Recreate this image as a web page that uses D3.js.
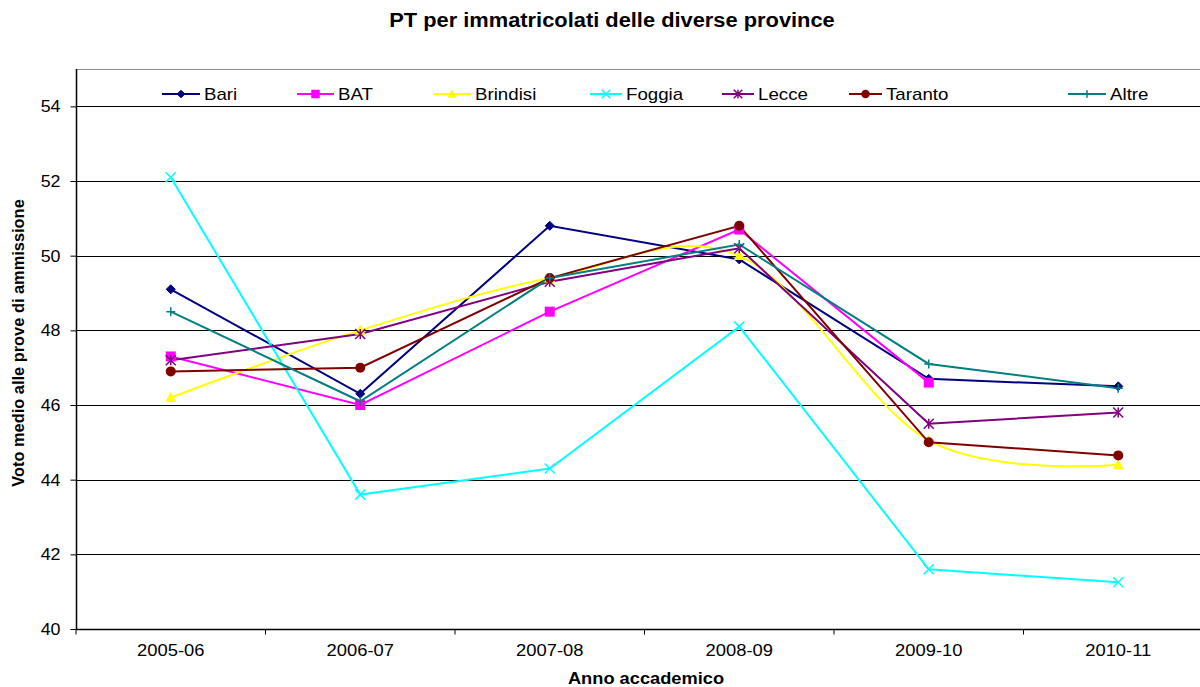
<!DOCTYPE html>
<html><head><meta charset="utf-8">
<script src="https://cdn.jsdelivr.net/npm/d3@7"></script>
<style>body{margin:0;background:#fff;}svg{display:block;font-family:"Liberation Sans",Arial,sans-serif;}</style>
</head><body>
<svg id="c" width="1200" height="687"></svg>
<script>
const categories = ["2005-06","2006-07","2007-08","2008-09","2009-10","2010-11"];
const yTicks = [40,42,44,46,48,50,52,54];
const seriesNames = ["Bari","BAT","Brindisi","Foggia","Lecce","Taranto","Altre"];
const bari     = [49.1, 46.3, 50.8, 49.9, 46.7, 46.5];
const bat      = [47.3, 46.0, 48.5, 50.7, 46.6, null];
const brindisi = [46.2, 48.0, 49.4, 50.0, 45.05, 44.4];
const foggia   = [52.1, 43.6, 44.3, 48.1, 41.6, 41.25];
const lecce    = [47.2, 47.9, 49.3, 50.2, 45.5, 45.8];
const taranto  = [46.9, 47.0, 49.4, 50.8, 45.0, 44.65];
const altre    = [48.5, 46.1, 49.4, 50.3, 47.1, 46.45];
const colors   = ["#000080","#FF00FF","#FFFF00","#00FFFF","#800080","#800000","#008080"];
const markers  = ["diamond","square","triangle","x","asterisk","circle","plus"];
const smooth   = [false,false,true,false,false,false,false];

const seriesValues = [bari,bat,brindisi,foggia,lecce,taranto,altre];
const svg = d3.select("#c");
const L=76, T=69, R=1213, B=629;
const x = d3.scaleBand().domain(categories).range([L,R]);
const y = d3.scaleLinear().domain([40,55]).range([B,T]);
const cx = c => x(c)+x.bandwidth()/2;

function stretch(sel, f){
  sel.each(function(){
    const w = this.getComputedTextLength();
    d3.select(this).attr("textLength", w*f).attr("lengthAdjust","spacingAndGlyphs");
  });
}

// gridlines
svg.append("g").selectAll("line").data(yTicks.filter(d=>d>40)).join("line")
  .attr("x1",L).attr("x2",R).attr("y1",d=>Math.round(y(d))+0.5).attr("y2",d=>Math.round(y(d))+0.5)
  .attr("stroke","#000").attr("stroke-width",1);
// top border
svg.append("line").attr("x1",L).attr("x2",R).attr("y1",T+0.5).attr("y2",T+0.5).attr("stroke","#909090");

// y axis
const ya = svg.append("g").attr("transform",`translate(${L+0.5},0)`)
  .call(d3.axisLeft(y).tickValues(yTicks).tickSize(6).tickPadding(10).tickFormat(d3.format("d")));
ya.select(".domain").attr("d",`M0,${T}V${B}`).attr("stroke","#000").attr("stroke-width",1.5);
ya.selectAll("text").attr("font-size",17).attr("fill","#000").attr("font-family","Liberation Sans, Arial, sans-serif");
ya.selectAll(".tick line").attr("stroke","#000");
stretch(ya.selectAll("text"),1.05);

// x axis
const xa = svg.append("g").attr("transform",`translate(0,${B+0.5})`)
  .call(d3.axisBottom(x).tickSize(0).tickPadding(14));
xa.select(".domain").attr("d",`M${L},0H${R}`).attr("stroke","#000").attr("stroke-width",1.5);
xa.selectAll("text").attr("font-size",17).attr("fill","#000").attr("font-family","Liberation Sans, Arial, sans-serif");
stretch(xa.selectAll("text"),1.08);
xa.selectAll(".bt").data(d3.range(categories.length+1)).join("line")
  .attr("x1",i=>L+i*x.bandwidth()).attr("x2",i=>L+i*x.bandwidth()).attr("y1",0).attr("y2",5).attr("stroke","#000");

// titles
const t1 = svg.append("text").attr("x",612).attr("y",27).attr("text-anchor","middle")
  .attr("font-size",19.5).attr("font-weight","bold").text("PT per immatricolati delle diverse province");
stretch(t1,1.12);
const t2 = svg.append("text").attr("x",646).attr("y",684).attr("text-anchor","middle")
  .attr("font-size",16).attr("font-weight","bold").text("Anno accademico");
stretch(t2,1.14);
svg.append("text").attr("transform","translate(24,343) rotate(-90)").attr("text-anchor","middle")
  .attr("font-size",16.4).attr("font-weight","bold").text("Voto medio alle prove di ammissione");

function drawMarker(g, type, color, s) {
  const h = s/2;
  switch(type){
    case "diamond": g.append("path").attr("d",`M0,${-h}L${h},0L0,${h}L${-h},0Z`).attr("fill",color).attr("stroke",color); break;
    case "square": g.append("rect").attr("x",-h).attr("y",-h).attr("width",s).attr("height",s).attr("fill",color); break;
    case "triangle": g.append("path").attr("d",`M0,${-h}L${h},${h*0.8}L${-h},${h*0.8}Z`).attr("fill",color); break;
    case "circle": g.append("circle").attr("r",h).attr("fill",color); break;
    case "x": g.append("path").attr("d",`M${-h},${-h}L${h},${h}M${h},${-h}L${-h},${h}`).attr("stroke",color).attr("stroke-width",1.5).attr("fill","none"); break;
    case "asterisk": g.append("path").attr("d",`M${-h},${-h}L${h},${h}M${h},${-h}L${-h},${h}M0,${-h}V${h}`).attr("stroke",color).attr("stroke-width",1.5).attr("fill","none"); break;
    case "plus": g.append("path").attr("d",`M${-h},0H${h}M0,${-h}V${h}`).attr("stroke",color).attr("stroke-width",1.5).attr("fill","none"); break;
  }
}
const mSize = {diamond:9,square:10,triangle:11,circle:10,x:10,asterisk:10,plus:9};

// series
seriesValues.forEach((vals,i)=>{
  const pts = categories.map((c,j)=>({c,v:vals[j]})).filter(d=>d.v!=null);
  const line = d3.line().x(d=>cx(d.c)).y(d=>y(d.v)).curve(smooth[i]?d3.curveCatmullRom.alpha(0):d3.curveLinear);
  svg.append("path").datum(pts).attr("d",line).attr("fill","none").attr("stroke",colors[i]).attr("stroke-width",2);
});
seriesValues.forEach((vals,i)=>{
  const pts = categories.map((c,j)=>({c,v:vals[j]})).filter(d=>d.v!=null);
  pts.forEach(p=>{
    const g = svg.append("g").attr("transform",`translate(${cx(p.c)},${y(p.v)})`);
    drawMarker(g, markers[i], colors[i], mSize[markers[i]]);
  });
});

// legend
const legX = [162,297,433,590,722,849,1068];
const legW = [38,37,38,32,32,33,38];
const legY = 94;
seriesNames.forEach((n,i)=>{
  const g = svg.append("g");
  g.append("line").attr("x1",legX[i]).attr("x2",legX[i]+legW[i]).attr("y1",legY).attr("y2",legY).attr("stroke",colors[i]).attr("stroke-width",2);
  const mg = g.append("g").attr("transform",`translate(${legX[i]+legW[i]/2},${legY})`);
  drawMarker(mg, markers[i], colors[i], mSize[markers[i]]*0.85);
  const t = g.append("text").attr("x",legX[i]+legW[i]+4).attr("y",legY+6).attr("font-size",17).attr("fill","#000").text(n);
  stretch(t,1.1);
});
</script>
</body></html>
